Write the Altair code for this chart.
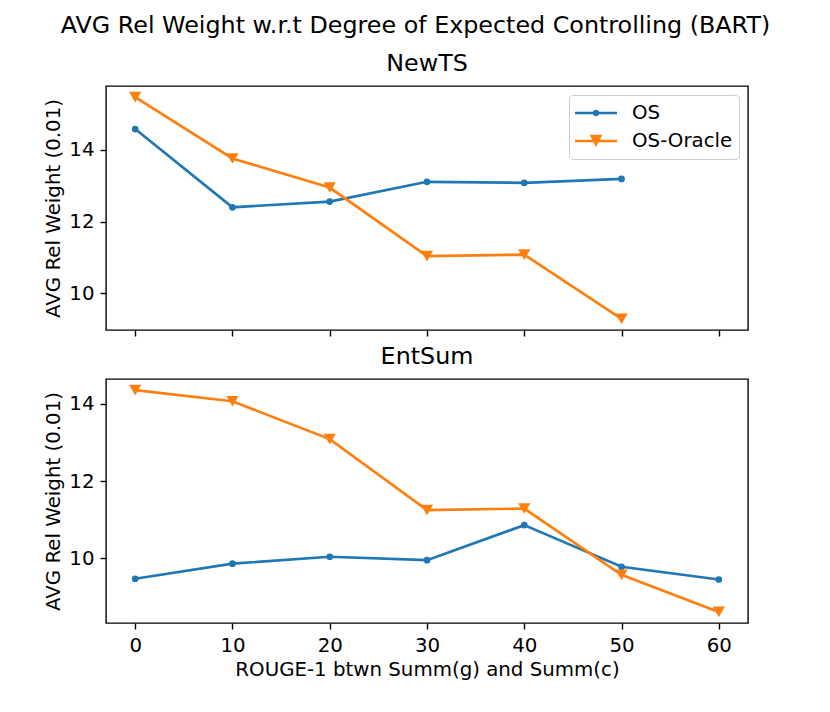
import altair as alt
import pandas as pd

# ---------------- data ----------------
x_vals = [0, 10, 20, 30, 40, 50, 60]
series_names = ["OS", "OS-Oracle"]
series_colors = ["#1f77b4", "#ff7f0e"]

newts_os = [14.58, 12.40, 12.56, 13.11, 13.08, 13.19]
newts_oracle = [15.47, 13.76, 12.95, 11.04, 11.08, 9.29]

entsum_os = [9.47, 9.86, 10.04, 9.95, 10.86, 9.78, 9.45]
entsum_oracle = [14.36, 14.07, 13.09, 11.25, 11.29, 9.57, 8.61]

y_ticks = [10, 12, 14]

main_title = "AVG Rel Weight w.r.t Degree of Expected Controlling (BART)"
panel_titles = ["NewTS", "EntSum"]
x_title = "ROUGE-1 btwn Summ(g) and Summ(c)"
y_title = "AVG Rel Weight (0.01)"

FS_SMALL = 19.8
FS_BIG = 23.8


def make_df(os_vals, oracle_vals):
    rows = []
    for xv, v in zip(x_vals, os_vals):
        rows.append({"x": xv, "y": v, "series": "OS"})
    for xv, v in zip(x_vals, oracle_vals):
        rows.append({"x": xv, "y": v, "series": "OS-Oracle"})
    return pd.DataFrame(rows)


def padded(vals):
    lo, hi = min(vals), max(vals)
    m = (hi - lo) * 0.05
    return [lo - m, hi + m]


W, H = 642, 244
x_dom = padded(x_vals)

# custom legend glyphs: line segment + marker (normalised -1..1 box)
LEG_W = 42
hl = 1.35 / (LEG_W / 2)
line_part = f"M-1,{-hl}L1,{-hl}L1,{hl}L-1,{hl}Z"
rc = 3.3 / (LEG_W / 2)
circle_part = f"M{rc},0A{rc},{rc} 0 1,1 {-rc},0A{rc},{rc} 0 1,1 {rc},0Z"
tt = 6.3 / (LEG_W / 2)
tri_part = f"M{-tt},{-tt}L{tt},{-tt}L0,{tt}Z"
legend_paths = [line_part + circle_part, line_part + tri_part]


def panel(df, title, show_x, with_legend):
    y_dom = padded(list(df["y"]))
    base = alt.Chart(df)
    x_enc = alt.X(
        "x:Q",
        scale=alt.Scale(domain=x_dom, nice=False, zero=False),
        axis=alt.Axis(
            values=x_vals,
            labels=show_x,
            title=x_title if show_x else None,
            titleY=46,
            titleBaseline="middle",
        ),
    )
    y_enc = alt.Y(
        "y:Q",
        scale=alt.Scale(domain=y_dom, nice=False, zero=False),
        axis=alt.Axis(
            values=y_ticks,
            title=y_title,
            titleX=-53,
            titleY=H / 2,
            titleBaseline="middle",
        ),
    )
    color = alt.Color(
        "series:N",
        scale=alt.Scale(domain=series_names, range=series_colors),
        legend=None,
    )
    layers = []
    for name, shape, size in [("OS", "circle", 45), ("OS-Oracle", "triangle-down", 150)]:
        sub = base.transform_filter(alt.datum.series == name)
        layers.append(
            sub.mark_line(strokeWidth=2.7).encode(x=x_enc, y=y_enc, color=color)
        )
        layers.append(
            sub.mark_point(filled=True, shape=shape, size=size, opacity=1).encode(
                x=x_enc, y=y_enc, color=color
            )
        )
    if with_legend:
        leg = alt.Legend(
            title=None,
            orient="top-right",
            offset=9,
            symbolSize=LEG_W * LEG_W,
            symbolOpacity=1,
            symbolStrokeWidth=0,
            clipHeight=24,
            labelFontSize=FS_SMALL,
            labelColor="black",
            labelOffset=15,
            padding=6,
            rowPadding=4,
            strokeColor="#cccccc",
            fillColor="white",
            cornerRadius=4,
        )
        layers.append(
            base.mark_point(filled=True, opacity=0).encode(
                x=x_enc,
                y=y_enc,
                fill=alt.Fill(
                    "series:N",
                    scale=alt.Scale(domain=series_names, range=series_colors),
                    legend=leg,
                ),
                shape=alt.Shape(
                    "series:N",
                    scale=alt.Scale(domain=series_names, range=legend_paths),
                    legend=leg,
                ),
            )
        )
    return alt.layer(*layers).properties(
        width=W,
        height=H,
        title=alt.TitleParams(title, fontSize=FS_BIG, fontWeight="normal", offset=10, color="black"),
    )


top = panel(make_df(newts_os, newts_oracle), panel_titles[0], False, True)
bottom = panel(make_df(entsum_os, entsum_oracle), panel_titles[1], True, False)

chart = (
    alt.vconcat(top, bottom, spacing=6)
    .resolve_scale(fill="independent", shape="independent")
    .resolve_legend(fill="independent", shape="independent")
    .properties(
        title=alt.TitleParams(
            main_title, fontSize=FS_BIG, fontWeight="normal", anchor="middle", dx=20, offset=14, color="black"
        )
    )
    .configure(font="DejaVu Sans", padding={"left": 34, "top": 5, "right": 5, "bottom": 5})
    .configure_view(stroke="black", strokeWidth=1.4)
    .configure_axis(
        domain=False,
        grid=False,
        ticks=True,
        tickColor="black",
        tickWidth=1.4,
        tickSize=6,
        labelColor="black",
        labelFontSize=FS_SMALL,
        labelPadding=6,
        titleFontSize=FS_SMALL,
        titleFontWeight="normal",
        titleColor="black",
    )
)

chart.save("out.html", embed_options={"renderer": "svg", "actions": False})
